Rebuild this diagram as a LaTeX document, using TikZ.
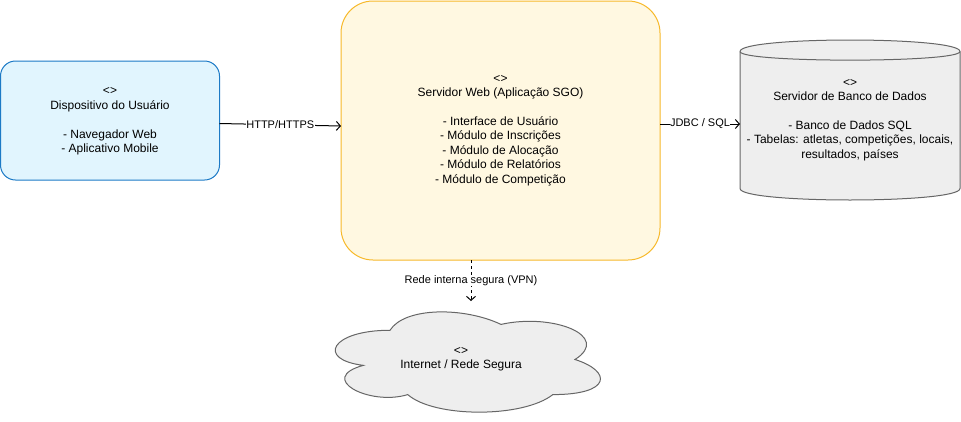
\documentclass[tikz,border=0pt]{standalone}
\usepackage{fontspec}
\setmainfont{Liberation Sans}
\usetikzlibrary{arrows.meta,calc}
\definecolor{devfill}{HTML}{E1F5FE}
\definecolor{devdraw}{HTML}{1C7AC6}
\definecolor{webfill}{HTML}{FFF8E1}
\definecolor{webdraw}{HTML}{F7B92A}
\definecolor{grayfill}{HTML}{EEEEEE}
\definecolor{graydraw}{HTML}{666666}
\begin{document}
\begin{tikzpicture}[x=1pt,y=-1pt,
  txt/.style={font=\fontsize{12}{14.4}\selectfont, align=center, text=black, inner sep=0pt},
  lbl/.style={font=\fontsize{11}{13}\selectfont, fill=white, inner sep=0.5pt, text=black},
  arr/.style={draw=black, line width=1pt, -{Straight Barb[length=4pt,width=9pt]}},
  shapebox/.style={rectangle, outer sep=0pt, inner sep=0pt, line width=1pt},
  grayshape/.style={draw=graydraw, fill=grayfill, line width=1pt}]
\useasboundingbox (0,0) rectangle (961,421);

% user device
\node[shapebox, draw=devdraw, fill=devfill, rounded corners=15pt,
      minimum width=219pt, minimum height=119pt] (dev) at (110,120.5) {};
\node[txt] (devtxt) at ([yshift=-1pt]dev.center) {<>\\Dispositivo do Usuário\\[14.4pt]- Navegador Web\\- Aplicativo Mobile};

% web server
\node[shapebox, draw=webdraw, fill=webfill, rounded corners=32pt,
      minimum width=319pt, minimum height=259pt] (web) at (500.5,130.5) {};
\node[txt] (webtxt) at (web.center) {<>\\Servidor Web (Aplicação SGO)\\[14.4pt]- Interface de Usuário\\- Módulo de Inscrições\\- Módulo de Alocação\\- Módulo de Relatórios\\- Módulo de Competição};

% database cylinder
\node[shapebox, minimum width=220pt, minimum height=160pt] (db) at (850,120) {};
\path[grayshape] (740,51.5) .. controls (740,36.17) and (960,36.17) .. (960,51.5)
  -- (960,188.5) .. controls (960,203.83) and (740,203.83) .. (740,188.5) -- cycle;
\draw[draw=graydraw, line width=1pt] (740,51.5) .. controls (740,63) and (960,63) .. (960,51.5);
\node[txt] (dbtxt) at (850,120) {<>\\Servidor de Banco de Dados\\[14.4pt]- Banco de Dados SQL\\- Tabelas: atletas, competições, locais,\\resultados, países};

% cloud
\node[shapebox, minimum width=296pt, minimum height=117pt] (cloud) at (464,359.5) {};
\path[grayshape] (390,330.25)
  .. controls (330.8,330.25) and (316,359.5) .. (363.36,365.35)
  .. controls (316,378.22) and (369.28,406.3) .. (407.76,394.6)
  .. controls (434.4,418) and (523.2,418) .. (552.8,394.6)
  .. controls (612,394.6) and (612,371.2) .. (575,359.5)
  .. controls (612,336.1) and (552.8,312.7) .. (501,324.4)
  .. controls (464,306.85) and (404.8,306.85) .. (390,330.25) -- cycle;
\node[txt] (cloudtxt) at (461,359.5) {<>\\Internet / Rede Segura};

% connectors
\draw[arr] ([yshift=-3pt]dev.east) -- node[lbl] {HTTP/HTTPS} ([yshift=4.5pt]web.west);
\draw[arr] ([yshift=6.5pt]web.east) -- node[lbl] {JDBC / SQL} ([yshift=-4pt]db.west);
\draw[arr, dash pattern=on 3pt off 3pt] ([xshift=-29.5pt]web.south) -- node[lbl] {Rede interna segura (VPN)} ([xshift=7pt]cloud.north);
\end{tikzpicture}
\end{document}
